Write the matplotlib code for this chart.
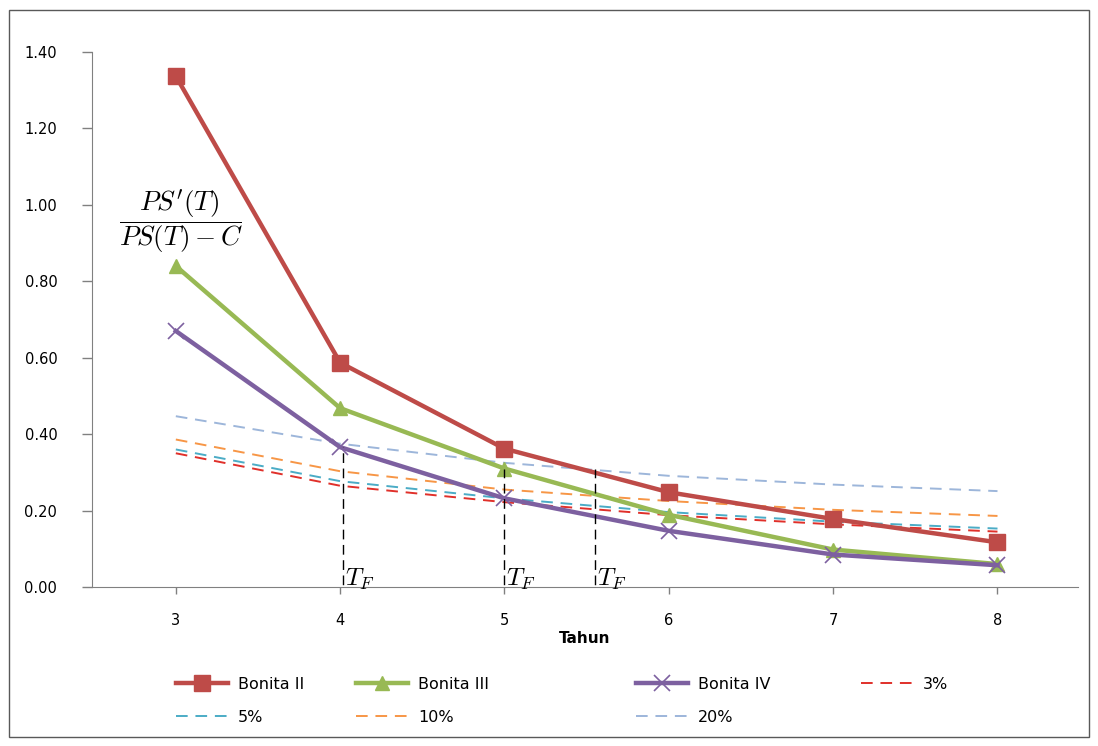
import numpy as np
import matplotlib.pyplot as plt
from matplotlib.patches import Rectangle

tahun = [3, 4, 5, 6, 7, 8]
bonita_2 = [1.337, 0.587, 0.362, 0.248, 0.178, 0.117]
bonita_3 = [0.840, 0.468, 0.310, 0.189, 0.098, 0.060]
bonita_4 = [0.670, 0.366, 0.232, 0.147, 0.085, 0.057]
r3 = [0.350, 0.265, 0.222, 0.188, 0.164, 0.145]
r5 = [0.360, 0.277, 0.232, 0.196, 0.171, 0.153]
r10 = [0.386, 0.303, 0.255, 0.225, 0.202, 0.186]
r20 = [0.447, 0.375, 0.325, 0.291, 0.268, 0.251]
tf_x = [4.02, 5.0, 5.55]
tf_y = [0.366, 0.31, 0.31]
yticks = [0.0, 0.2, 0.4, 0.6, 0.8, 1.0, 1.2, 1.4]

fig = plt.figure(figsize=(10.98, 7.46), dpi=100)
fig.patches.append(Rectangle((0.008, 0.012), 0.984, 0.974, transform=fig.transFigure,
                             fill=False, edgecolor='#595959', linewidth=1))
ax = fig.add_axes([0.0838, 0.2131, 0.898, 0.7172])

dash = (6, 4)
ax.plot(tahun, r3, color='#E0302A', lw=1.4, dashes=dash, label='3%')
ax.plot(tahun, r5, color='#4BACC6', lw=1.4, dashes=dash, label='5%')
ax.plot(tahun, r10, color='#F79646', lw=1.4, dashes=dash, label='10%')
ax.plot(tahun, r20, color='#9DB6DA', lw=1.4, dashes=dash, label='20%')

ax.plot(tahun, bonita_2, color='#BE4B48', lw=3.2, marker='s', ms=11, label='Bonita II')
ax.plot(tahun, bonita_3, color='#98B954', lw=3.2, marker='^', ms=10, label='Bonita III')
ax.plot(tahun, bonita_4, color='#7D60A0', lw=3.2, marker='x', ms=12, mew=1.2, label='Bonita IV')

# garis T_F
for x, y in zip(tf_x, tf_y):
    ax.plot([x, x], [-0.035, y], color='black', lw=1, dashes=(7, 4))
    ax.text(x + 0.01, -0.012, r'$T_F$', fontsize=18, math_fontfamily='cm',
            ha='left', va='bottom')

ax.text(3.03, 0.955, r"$\dfrac{PS'(T)}{PS(T)-C}$", fontsize=19.5, math_fontfamily='cm',
        ha='center', va='center')

ax.set_xlim(2.49, 8.49)
ax.set_ylim(0, 1.4)
ax.set_xticks(tahun)
ax.set_yticks(yticks)
ax.set_yticklabels(['{:.2f}'.format(v) for v in yticks])
ax.tick_params(axis='both', colors='#808080', labelcolor='black', labelsize=10.5, width=1)
ax.tick_params(axis='x', length=5, pad=14)
ax.tick_params(axis='y', length=7, pad=18)
for s in ['top', 'right']:
    ax.spines[s].set_visible(False)
for s in ['left', 'bottom']:
    ax.spines[s].set_color('#808080')
ax.set_xlabel('Tahun', fontweight='bold', fontsize=11, labelpad=2)

h, l = ax.get_legend_handles_labels()
d = dict(zip(l, h))
cols = [['Bonita II', '5%'], ['Bonita III', '10%'], ['Bonita IV', '20%'], ['3%']]
col_x = [0.160, 0.324, 0.579, 0.784]
for names, cx in zip(cols, col_x):
    fig.legend([d[k] for k in names], names, loc='upper left',
               bbox_to_anchor=(cx, 0.093), frameon=False, fontsize=11.5,
               handlelength=3.3, handletextpad=0.6, labelspacing=1.15,
               borderpad=0, borderaxespad=0)

plt.savefig('out.png', dpi=100)
